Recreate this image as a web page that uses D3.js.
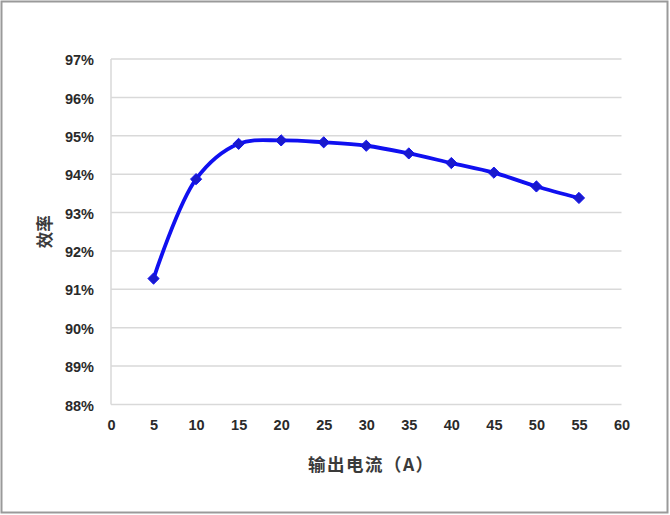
<!DOCTYPE html>
<html><head><meta charset="utf-8">
<script src="https://cdn.jsdelivr.net/npm/d3@7"></script>
<style>body{margin:0;background:#fff}svg{display:block}</style>
</head><body>
<svg id="c" width="670" height="515"></svg>
<script>
const currents = [5,10,15,20,25,30,35,40,45,50,55];
const efficiency = [91.28,93.87,94.79,94.88,94.83,94.74,94.54,94.29,94.04,93.68,93.38];
const xTicks = [0,5,10,15,20,25,30,35,40,45,50,55,60];
const yTicks = [88,89,90,91,92,93,94,95,96,97];
const xTitle = "输出电流（A）";
const yTitle = "效率";

const svg = d3.select("#c");
svg.append("rect").attr("x",1.5).attr("y",1.5).attr("width",666).attr("height",511)
  .attr("fill","#fff").attr("stroke","#9a9a9a").attr("stroke-width",2);

const x = d3.scaleLinear().domain([0,60]).range([111,621.5]);
const y = d3.scaleLinear().domain([88,97]).range([404.5,59]);

// gridlines
svg.append("g").selectAll("line").data(yTicks).join("line")
  .attr("x1",x(0)).attr("x2",x(60)).attr("y1",d=>y(d)).attr("y2",d=>y(d))
  .attr("stroke","#d9d9d9").attr("stroke-width",1.5);
// left axis line
svg.append("line").attr("x1",x(0)).attr("x2",x(0)).attr("y1",y(97)).attr("y2",y(88))
  .attr("stroke","#d9d9d9").attr("stroke-width",1.5);

const font = "'Liberation Sans', Arial, sans-serif";
// y tick labels
const yAxis = d3.axisLeft(y).tickValues(yTicks).tickFormat(d=>d+"%").tickSize(0).tickPadding(17);
const gy = svg.append("g").attr("transform",`translate(${x(0)},1)`).call(yAxis);
gy.select(".domain").remove();
gy.selectAll("text").attr("font-family",font).attr("font-size",14.5).attr("font-weight","bold").attr("fill","#2a2a2a");
// x tick labels
const xAxis = d3.axisBottom(x).tickValues(xTicks).tickFormat(d=>d).tickSize(0).tickPadding(15);
const gx = svg.append("g").attr("transform",`translate(0,${y(88)})`).call(xAxis);
gx.select(".domain").remove();
gx.selectAll("text").attr("font-family",font).attr("font-size",14.5).attr("font-weight","bold").attr("fill","#2a2a2a");

// titles
svg.append("text").attr("x",(x(0)+x(60))/2+5).attr("y",471).attr("text-anchor","middle")
  .attr("font-family","'Noto Sans CJK SC', sans-serif").attr("font-size",17.5).attr("font-weight","bold")
  .attr("letter-spacing",1.5).attr("fill","#3a3a3a").text(xTitle);
svg.append("text").attr("transform",`translate(51,${(y(88)+y(97))/2}) rotate(-90)`).attr("text-anchor","middle")
  .attr("font-family","'Noto Sans CJK SC', sans-serif").attr("font-size",16.5).attr("font-weight","bold")
  .attr("fill","#3a3a3a").text(yTitle);

const pts = currents.map((c,i)=>[c,efficiency[i]]);
const line = d3.line().x(d=>x(d[0])).y(d=>y(d[1])).curve(d3.curveCatmullRom.alpha(0.5));
svg.append("path").datum(pts).attr("d",line).attr("fill","none")
  .attr("stroke","#1010f0").attr("stroke-width",3.8).attr("stroke-linejoin","round");

svg.append("g").selectAll("path").data(pts).join("path")
  .attr("d",d3.symbol(d3.symbolDiamond2,80)())
  .attr("transform",d=>`translate(${x(d[0])},${y(d[1])})`)
  .attr("fill","#1a1acc").attr("stroke","#1010f0").attr("stroke-width",1);
</script>
</body></html>
